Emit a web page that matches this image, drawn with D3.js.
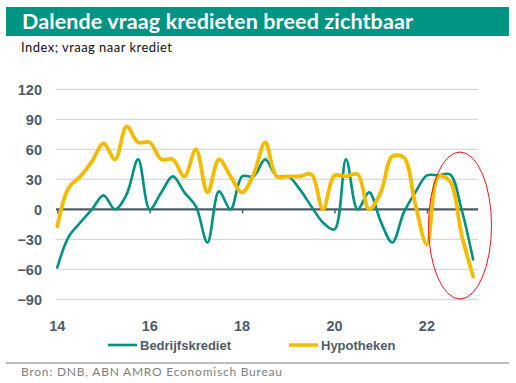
<!DOCTYPE html>
<html><head><meta charset="utf-8">
<script src="https://cdn.jsdelivr.net/npm/d3@7"></script>
<style>body{margin:0;background:#fff;}svg{display:block;}</style>
</head><body>
<svg id="c" width="516" height="383"></svg>
<script>
const quarters = d3.range(37).map(i => 2014 + i * 0.25);
const bedrijfskrediet = [-58,-27,-13,0,14,0,15,50,0,17,33,17,3,-33,18,0,33,33,50,33,33,20,3,-13,-20,50,0,17,-12,-33,-3,17,34,34,35,0,-50];
const hypotheken = [-17,22,33,48,66,50,83,67,67,50,50,33,60,17,50,33,17,35,67,33,33,33,35,0,34,33,35,0,17,53,52,5,-35,33,28,-25,-67];
const yTicks = [120,90,60,30,0,-30,-60,-90];
const xTicks = [2014,2016,2018,2020,2022];
const xTickLabels = ["14","16","18","20","22"];
const seriesNames = ["Bedrijfskrediet","Hypotheken"];
const title = "Dalende vraag kredieten breed zichtbaar";
const subtitle = "Index; vraag naar krediet";
const source = "Bron: DNB, ABN AMRO Economisch Bureau";

const svg = d3.select("#c");
const teal = "#00917f", yellow = "#f5bb00", axisCol = "#4e5c67";

svg.append("rect").attr("x",6).attr("y",7).attr("width",503).attr("height",29).attr("fill","#009483");
svg.append("text").attr("x",22).attr("y",28.5).attr("fill","#fff")
  .attr("font-family","Lato, 'Open Sans', sans-serif").attr("font-weight","bold").attr("font-size",21.5)
  .attr("textLength",391).attr("lengthAdjust","spacing")
  .text(title);
svg.append("text").attr("x",21).attr("y",52).attr("fill","#111")
  .attr("font-family","Lato, sans-serif").attr("font-size",13)
  .attr("textLength",151).attr("lengthAdjust","spacing").text(subtitle);

const x = d3.scaleLinear().domain([2014,2023]).range([57.3,473.1]);
const y = d3.scaleLinear().domain([-90,120]).range([299.5,89.3]);

const g = svg.append("g");
g.selectAll("line.grid").data(yTicks.filter(v=>v!==0)).join("line")
  .attr("x1",56).attr("x2",478).attr("y1",d=>y(d)).attr("y2",d=>y(d))
  .attr("stroke","#d9d9d9").attr("stroke-width",1.3);

const yAxis = d3.axisLeft(y).tickValues(yTicks).tickSize(0).tickPadding(0);
const ya = svg.append("g").attr("transform","translate(42,0)").call(yAxis);
ya.select(".domain").remove();
ya.selectAll("text").attr("font-family","Liberation Sans, Arial, sans-serif").attr("font-weight","bold")
  .attr("font-size",14.5).attr("fill",axisCol).attr("dy","0.35em");

svg.append("line").attr("x1",56).attr("x2",478).attr("y1",y(0)).attr("y2",y(0))
  .attr("stroke",axisCol).attr("stroke-width",2.2);
const xAxis = d3.axisBottom(x).tickValues(xTicks).tickSize(4).tickFormat((d,i)=>xTickLabels[i]);
const xa = svg.append("g").attr("transform",`translate(0,${y(0)})`).call(xAxis);
xa.select(".domain").remove();
xa.selectAll("line").attr("stroke",axisCol).attr("stroke-width",1.5);
xa.selectAll("text").remove();
svg.append("g").selectAll("text").data(xTicks).join("text")
  .attr("x",d=>x(d)).attr("y",331).attr("text-anchor","middle")
  .attr("font-family","Liberation Sans, Arial, sans-serif").attr("font-weight","bold")
  .attr("font-size",14.5).attr("fill",axisCol).text((d,i)=>xTickLabels[i]);

const line = d3.line().x((d,i)=>x(quarters[i])).y(d=>y(d)).curve(d3.curveCatmullRom.alpha(0.5));
svg.append("path").datum(bedrijfskrediet).attr("d",line).attr("fill","none")
  .attr("stroke",teal).attr("stroke-width",2.6).attr("stroke-linecap","round").attr("stroke-linejoin","round");
svg.append("path").datum(hypotheken).attr("d",line).attr("fill","none")
  .attr("stroke",yellow).attr("stroke-width",3.8).attr("stroke-linecap","round").attr("stroke-linejoin","round");

svg.append("ellipse").attr("cx",460).attr("cy",225.5).attr("rx",31.5).attr("ry",73.5)
  .attr("fill","none").attr("stroke","#e8141c").attr("stroke-width",1);

const leg = [{n:seriesNames[0],c:teal,x:108,w:2.6},{n:seriesNames[1],c:yellow,x:289,w:3.5}];
const lg = svg.append("g").selectAll("g").data(leg).join("g");
lg.append("line").attr("x1",d=>d.x).attr("x2",d=>d.x+29).attr("y1",345).attr("y2",345)
  .attr("stroke",d=>d.c).attr("stroke-width",d=>d.w);
lg.append("text").attr("x",d=>d.x+32).attr("y",350).attr("font-family","Liberation Sans, Arial, sans-serif")
  .attr("font-weight","bold").attr("font-size",13).attr("fill",axisCol).text(d=>d.n);

svg.append("line").attr("x1",6).attr("x2",509).attr("y1",363).attr("y2",363).attr("stroke","#a6a6a6").attr("stroke-width",1.5);
svg.append("text").attr("x",21).attr("y",376).attr("fill","#7f7f7f")
  .attr("font-family","Lato, sans-serif").attr("font-size",12)
  .attr("textLength",261).attr("lengthAdjust","spacing").text(source);
</script>
</body></html>
